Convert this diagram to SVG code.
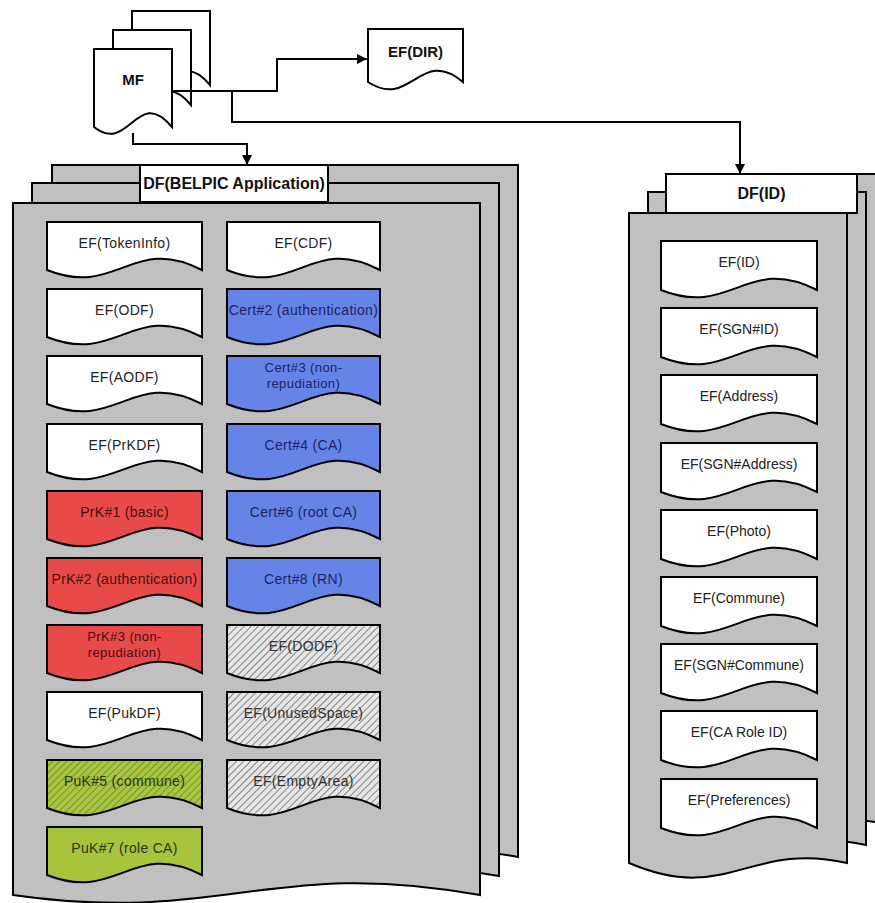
<svg xmlns="http://www.w3.org/2000/svg" width="875" height="903" viewBox="0 0 875 903">
<style>
.sheet{fill:#c0c0c0;stroke:#000;stroke-width:2;stroke-linejoin:miter}
.doc{fill:#fff;stroke:#000;stroke-width:2}
.box{stroke:#000;stroke-width:2}
.white{fill:#fff}.blue{fill:#6683e8}.red{fill:#e84a4a}.green{fill:#a6c43c}
.hatch{fill:url(#hatch)}.ghatch{fill:url(#ghatch)}
.hdr{fill:#fff;stroke:#000;stroke-width:2}
text{font-family:"Liberation Sans",Arial,sans-serif;text-anchor:middle}
.t{font-size:14px;fill:#222;letter-spacing:0.3px}
.t2{font-size:13px;letter-spacing:0.4px}
.tr{font-size:14px;fill:#222}
.tb{fill:#1b2466}.tred{fill:#4a0c0c}.tg{fill:#2a3410}.th{fill:#333}
.h{font-size:16px;font-weight:bold;fill:#111}
.conn{fill:none;stroke:#000;stroke-width:2}
</style>
<defs>
<pattern id="hatch" patternUnits="userSpaceOnUse" width="5" height="5" patternTransform="rotate(45)">
<rect width="5" height="5" fill="#e6e6e6"/><line x1="0" y1="0" x2="0" y2="5" stroke="#444" stroke-width="1.2"/>
</pattern>
<pattern id="ghatch" patternUnits="userSpaceOnUse" width="5" height="5" patternTransform="rotate(45)">
<rect width="5" height="5" fill="#a8c640"/><line x1="0" y1="0" x2="0" y2="5" stroke="#56701c" stroke-width="1.2"/>
</pattern>
<marker id="arr" markerWidth="12" markerHeight="10" refX="10" refY="5" orient="auto" markerUnits="userSpaceOnUse"><path d="M0,0 L10,5 L0,10 Z" fill="#000"/></marker>
</defs>

<g id="df-belpic">
<path class="sheet" d="M52,165 H518 V857 C308.3,819 261.7,887 52,857 Z"/>
<path class="sheet" d="M32,183 H499 V876 C288.85,838 242.15,906 32,876 Z"/>
<path class="sheet" d="M13,203 H480 V895 C269.85,857 223.15,925 13,895 Z"/>
<rect class="hdr" x="140" y="165" width="188" height="37"/>
<text class="h" x="234" y="189">DF(BELPIC Application)</text>
</g>

<g id="ef-tokeninfo"><path class="box white" d="M47,222 H202 V270 C132.25,234 116.75,298 47,270 Z"/><text class="t" x="124.5" y="248">EF(TokenInfo)</text></g>
<g id="ef-odf"><path class="box white" d="M47,289 H202 V337 C132.25,301 116.75,365 47,337 Z"/><text class="t" x="124.5" y="315">EF(ODF)</text></g>
<g id="ef-aodf"><path class="box white" d="M47,356 H202 V404 C132.25,368 116.75,432 47,404 Z"/><text class="t" x="124.5" y="382">EF(AODF)</text></g>
<g id="ef-prkdf"><path class="box white" d="M47,424 H202 V472 C132.25,436 116.75,500 47,472 Z"/><text class="t" x="124.5" y="450">EF(PrKDF)</text></g>
<g id="prk1"><path class="box red" d="M47,491 H202 V539 C132.25,503 116.75,567 47,539 Z"/><text class="t tred" x="124.5" y="517">PrK#1 (basic)</text></g>
<g id="prk2"><path class="box red" d="M47,558 H202 V606 C132.25,570 116.75,634 47,606 Z"/><text class="t tred" x="124.5" y="584">PrK#2 (authentication)</text></g>
<g id="prk3"><path class="box red" d="M47,625 H202 V673 C132.25,637 116.75,701 47,673 Z"/><text class="t t2 tred" x="124.5" y="641">PrK#3 (non-</text><text class="t t2 tred" x="124.5" y="657">repudiation)</text></g>
<g id="ef-pukdf"><path class="box white" d="M47,692 H202 V740 C132.25,704 116.75,768 47,740 Z"/><text class="t" x="124.5" y="718">EF(PukDF)</text></g>
<g id="puk5"><path class="box ghatch" d="M47,760 H202 V808 C132.25,772 116.75,836 47,808 Z"/><text class="t tg" x="124.5" y="786">PuK#5 (commune)</text></g>
<g id="puk7"><path class="box green" d="M47,827 H202 V875 C132.25,839 116.75,903 47,875 Z"/><text class="t tg" x="124.5" y="853">PuK#7 (role CA)</text></g>

<g id="ef-cdf"><path class="box white" d="M227,222 H380 V270 C311.15,234 295.85,298 227,270 Z"/><text class="t" x="303.5" y="248">EF(CDF)</text></g>
<g id="cert2"><path class="box blue" d="M227,289 H380 V337 C311.15,301 295.85,365 227,337 Z"/><text class="t tb" x="303.5" y="315">Cert#2 (authentication)</text></g>
<g id="cert3"><path class="box blue" d="M227,356 H380 V404 C311.15,368 295.85,432 227,404 Z"/><text class="t t2 tb" x="303.5" y="372">Cert#3 (non-</text><text class="t t2 tb" x="303.5" y="388">repudiation)</text></g>
<g id="cert4"><path class="box blue" d="M227,424 H380 V472 C311.15,436 295.85,500 227,472 Z"/><text class="t tb" x="303.5" y="450">Cert#4 (CA)</text></g>
<g id="cert6"><path class="box blue" d="M227,491 H380 V539 C311.15,503 295.85,567 227,539 Z"/><text class="t tb" x="303.5" y="517">Cert#6 (root CA)</text></g>
<g id="cert8"><path class="box blue" d="M227,558 H380 V606 C311.15,570 295.85,634 227,606 Z"/><text class="t tb" x="303.5" y="584">Cert#8 (RN)</text></g>
<g id="ef-dodf"><path class="box hatch" d="M227,625 H380 V673 C311.15,637 295.85,701 227,673 Z"/><text class="t th" x="303.5" y="651">EF(DODF)</text></g>
<g id="ef-unusedspace"><path class="box hatch" d="M227,692 H380 V740 C311.15,704 295.85,768 227,740 Z"/><text class="t th" x="303.5" y="718">EF(UnusedSpace)</text></g>
<g id="ef-emptyarea"><path class="box hatch" d="M227,760 H380 V808 C311.15,772 295.85,836 227,808 Z"/><text class="t th" x="303.5" y="786">EF(EmptyArea)</text></g>

<g id="df-id">
<path class="sheet" d="M667,174 H885 V824 C786.9,802 765.1,866 667,824 Z"/>
<path class="sheet" d="M648,192 H866 V845 C767.9,823 746.1,887 648,845 Z"/>
<path class="sheet" d="M629,213 H847 V863 C748.9,841 727.1,905 629,863 Z"/>
<rect class="hdr" x="666" y="174" width="191" height="39"/>
<text class="h" x="761.5" y="199">DF(ID)</text>
</g>

<g id="ef-id"><path class="box white" d="M661,241 H817 V290 C746.8,254 731.2,318 661,290 Z"/><text class="tr" x="739" y="267">EF(ID)</text></g>
<g id="ef-sgn-id"><path class="box white" d="M661,308 H817 V357 C746.8,321 731.2,385 661,357 Z"/><text class="tr" x="739" y="334">EF(SGN#ID)</text></g>
<g id="ef-address"><path class="box white" d="M661,375 H817 V424 C746.8,388 731.2,452 661,424 Z"/><text class="tr" x="739" y="401">EF(Address)</text></g>
<g id="ef-sgn-address"><path class="box white" d="M661,443 H817 V492 C746.8,456 731.2,520 661,492 Z"/><text class="tr" x="739" y="469">EF(SGN#Address)</text></g>
<g id="ef-photo"><path class="box white" d="M661,510 H817 V559 C746.8,523 731.2,587 661,559 Z"/><text class="tr" x="739" y="536">EF(Photo)</text></g>
<g id="ef-commune"><path class="box white" d="M661,577 H817 V626 C746.8,590 731.2,654 661,626 Z"/><text class="tr" x="739" y="603">EF(Commune)</text></g>
<g id="ef-sgn-commune"><path class="box white" d="M661,644 H817 V693 C746.8,657 731.2,721 661,693 Z"/><text class="tr" x="739" y="670">EF(SGN#Commune)</text></g>
<g id="ef-ca-role-id"><path class="box white" d="M661,711 H817 V760 C746.8,724 731.2,788 661,760 Z"/><text class="tr" x="739" y="737">EF(CA Role ID)</text></g>
<g id="ef-preferences"><path class="box white" d="M661,779 H817 V828 C746.8,792 731.2,856 661,828 Z"/><text class="tr" x="739" y="805">EF(Preferences)</text></g>

<g id="mf">
<path class="doc" d="M132,11 H210 V85 C174.9,43 167.1,113 132,85 Z"/>
<path class="doc" d="M113,30 H191 V105 C155.9,63 148.1,133 113,105 Z"/>
<path class="doc" d="M94,49 H172 V127 C136.9,85 129.1,155 94,127 Z"/>
<text class="h" style="font-size:15px" x="133" y="85">MF</text>
</g>

<g id="ef-dir">
<path class="doc" d="M368,29 H463 V82 C420.25,46 410.75,110 368,82 Z"/>
<text class="h" style="font-size:15px" x="415.5" y="57">EF(DIR)</text>
</g>

<g id="connectors">
<path class="conn" d="M172,91 H277 V59 H367" marker-end="url(#arr)"/>
<path class="conn" d="M232,91 V122 H740 V174" marker-end="url(#arr)"/>
<path class="conn" d="M133,133 V144 H247 V165" marker-end="url(#arr)"/>
</g>
</svg>
